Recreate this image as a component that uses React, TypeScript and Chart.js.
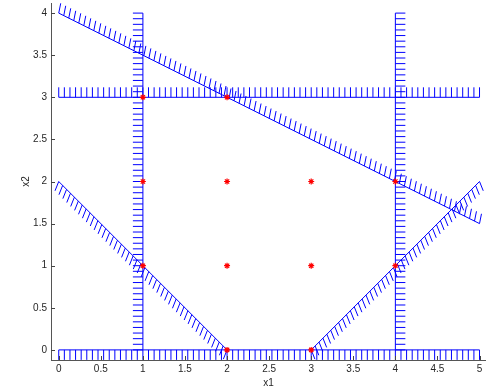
import React, { useEffect, useRef } from 'react';
import { Chart, registerables } from 'chart.js';

Chart.register(...registerables);

// Tick labels
const xTicks = [0, 0.5, 1, 1.5, 2, 2.5, 3, 3.5, 4, 4.5, 5];
const yTicks = [0, 0.5, 1, 1.5, 2, 2.5, 3, 3.5, 4];

// Feasible integer points (red asterisks)
const pointsX = [1, 2, 1, 2, 3, 4, 1, 2, 3, 4, 2, 3];
const pointsY = [3, 3, 2, 2, 2, 2, 1, 1, 1, 1, 0, 0];

// Constraint boundary lines (start / end)
const lineX1 = [0, 1, 4, 0, 0, 0, 3];
const lineY1 = [4, 0, 0, 3, 0, 2, 0];
const lineX2 = [5, 1, 4, 5, 5, 2, 5];
const lineY2 = [1.5, 4, 4, 3, 0, 0, 2];
// which side of each line carries the hatching
const hatchSide = [-1, -1, 1, -1, 1, 1, 1];

const BLUE = '#0000ff';
const TEXT = '#262626';
const FONT_FAMILY = "'Liberation Sans', Arial, Helvetica, sans-serif";
const FONT = { family: FONT_FAMILY, size: 10 };
const HATCH_GAP = 5.6;
const HATCH_LEN = 10;
const HATCH_TILT = 0.4;

const hatchPlugin = {
  id: 'hatch',
  beforeDatasetsDraw(chart: any) {
    const { ctx } = chart;
    const xs = chart.scales.x;
    const ys = chart.scales.y;
    ctx.save();
    ctx.strokeStyle = BLUE;
    ctx.lineWidth = 1;
    for (let i = 0; i < lineX1.length; i++) {
      const ax = xs.getPixelForValue(lineX1[i]);
      const ay = ys.getPixelForValue(lineY1[i]);
      const bx = xs.getPixelForValue(lineX2[i]);
      const by = ys.getPixelForValue(lineY2[i]);
      const len = Math.hypot(bx - ax, by - ay);
      const dx = (bx - ax) / len;
      const dy = (by - ay) / len;
      let nx = -dy * hatchSide[i] * HATCH_TILT;
      let ny = dx * hatchSide[i];
      const nl = Math.hypot(nx, ny);
      nx /= nl;
      ny /= nl;
      const n = Math.round(len / HATCH_GAP);
      ctx.beginPath();
      for (let k = 0; k <= n; k++) {
        const px = ax + ((bx - ax) * k) / n;
        const py = ay + ((by - ay) * k) / n;
        ctx.moveTo(px, py);
        ctx.lineTo(px + nx * HATCH_LEN, py + ny * HATCH_LEN);
      }
      ctx.stroke();
    }
    ctx.restore();
  },
};

// MATLAB-like inward ticks and tick labels
const axisPlugin = {
  id: 'matlabAxis',
  afterDraw(chart: any) {
    const { ctx, chartArea } = chart;
    const xs = chart.scales.x;
    const ys = chart.scales.y;
    ctx.save();
    ctx.strokeStyle = '#444';
    ctx.lineWidth = 1;
    ctx.beginPath();
    for (const v of xTicks) {
      const px = Math.round(xs.getPixelForValue(v)) + 0.5;
      ctx.moveTo(px, chartArea.bottom);
      ctx.lineTo(px, chartArea.bottom - 4);
    }
    for (const v of yTicks) {
      const py = Math.round(ys.getPixelForValue(v)) + 0.5;
      ctx.moveTo(chartArea.left, py);
      ctx.lineTo(chartArea.left + 4, py);
    }
    ctx.stroke();

    ctx.fillStyle = TEXT;
    ctx.font = `10px ${FONT_FAMILY}`;
    ctx.textAlign = 'center';
    ctx.textBaseline = 'top';
    for (const v of xTicks) {
      ctx.fillText(String(v), xs.getPixelForValue(v), chartArea.bottom + 4);
    }
    ctx.textAlign = 'right';
    ctx.textBaseline = 'middle';
    for (const v of yTicks) {
      ctx.fillText(String(v), chartArea.left - 4, ys.getPixelForValue(v));
    }
    ctx.restore();
  },
};

export default function App() {
  const canvasRef = useRef<HTMLCanvasElement | null>(null);

  useEffect(() => {
    document.body.style.margin = '0';
    const canvas = canvasRef.current;
    if (!canvas) return;

    const datasets: any[] = [
      {
        label: 'points',
        data: pointsX.map((x, i) => ({ x, y: pointsY[i] })),
        pointStyle: 'star',
        pointRadius: 3,
        pointBorderWidth: 1.2,
        borderColor: '#ff0000',
        backgroundColor: '#ff0000',
        showLine: false,
      },
    ];
    for (let i = 0; i < lineX1.length; i++) {
      datasets.push({
        label: 'c' + i,
        data: [
          { x: lineX1[i], y: lineY1[i] },
          { x: lineX2[i], y: lineY2[i] },
        ],
        showLine: true,
        borderColor: BLUE,
        borderWidth: 1,
        pointRadius: 0,
        fill: false,
        clip: false,
      });
    }

    const chart = new Chart(canvas, {
      type: 'scatter',
      data: { datasets },
      options: {
        animation: false,
        responsive: false,
        devicePixelRatio: 1,
        layout: { autoPadding: false, padding: { top: 3, right: 0, bottom: 0, left: 0 } },
        plugins: {
          legend: { display: false },
          tooltip: { enabled: false },
        },
        scales: {
          x: {
            type: 'linear',
            min: -0.092,
            max: 5.077,
            afterFit: (s: any) => {
              s.height = 29;
            },
            grid: { display: false, drawTicks: false },
            border: { display: true, color: '#555', width: 1 },
            ticks: { display: false },
            title: {
              display: true,
              text: 'x1',
              font: FONT,
              color: TEXT,
              padding: { top: 0, bottom: 0 },
            },
          },
          y: {
            type: 'linear',
            min: -0.12,
            max: 4.12,
            afterFit: (s: any) => {
              s.width = 51;
            },
            grid: { display: false, drawTicks: false },
            border: { display: true, color: '#555', width: 1 },
            ticks: { display: false },
            title: {
              display: true,
              text: 'x2',
              font: FONT,
              color: TEXT,
              padding: { top: 20, bottom: 0 },
            },
          },
        },
      },
      plugins: [hatchPlugin, axisPlugin],
    });

    return () => chart.destroy();
  }, []);

  return (
    <div style={{ position: 'fixed', left: 0, top: 0, width: 486, height: 389, background: '#fff' }}>
      <canvas ref={canvasRef} width={486} height={389} />
    </div>
  );
}
